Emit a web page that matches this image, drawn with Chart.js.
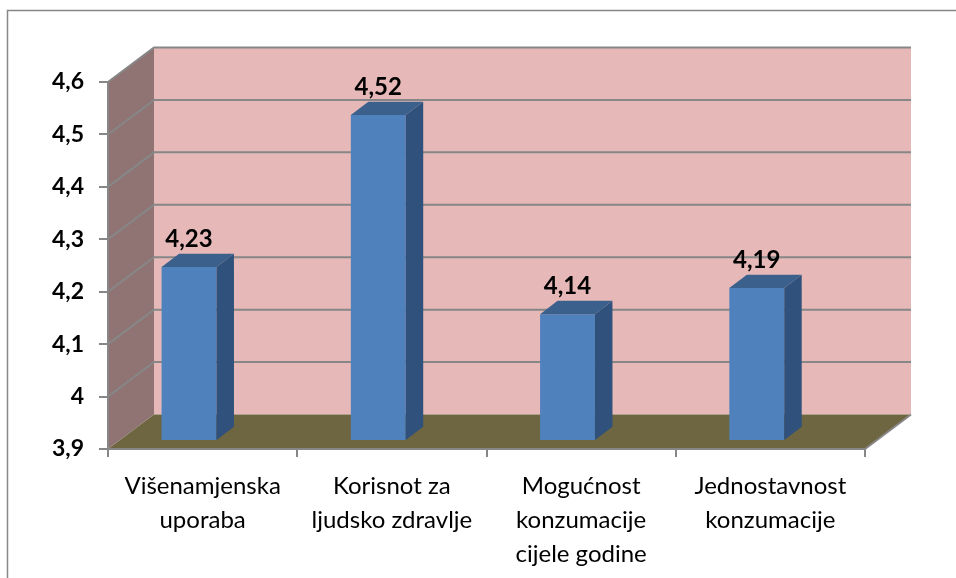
<!DOCTYPE html>
<html>
<head>
<meta charset="utf-8">
<script src="https://cdn.jsdelivr.net/npm/chart.js@4.4.1/dist/chart.umd.min.js"></script>
<style>
  html, body { margin: 0; padding: 0; background: #ffffff; }
  #wrap { width: 956px; height: 578px; position: relative; }
</style>
</head>
<body>
<div id="wrap"><canvas id="graf"></canvas></div>
<script>
// podaci s grafikona
var kategorije = [
  ['Višenamjenska', 'uporaba'],
  ['Korisnot za', 'ljudsko zdravlje'],
  ['Mogućnost', 'konzumacije', 'cijele godine'],
  ['Jednostavnost', 'konzumacije']
];
var vrijednosti = [4.23, 4.52, 4.14, 4.19];
var oznakeVrijednosti = ['4,23', '4,52', '4,14', '4,19'];
var yVrijednosti = [3.9, 4.0, 4.1, 4.2, 4.3, 4.4, 4.5, 4.6];
var yOznake = ['3,9', '4', '4,1', '4,2', '4,3', '4,4', '4,5', '4,6'];

// 3D izgled (dubina zidova i stupaca)
var DUB_X = 46, DUB_Y = -34.5;     // dubina poda / zidova
var STUP_X = 17.5, STUP_Y = -13.3; // dubina stupca
var POM_X = -13.6, POM_Y = -9;     // pomak prednje plohe stupca

var boje = {
  zid: '#e6b9b8',
  bocniZid: '#907474',
  pod: '#6e6640',
  mreza: '#878787',
  prednja: '#4f81bd',
  bocna: '#30517b',
  gornja: '#3c608c'
};

function poligon(ctx, tocke, boja) {
  ctx.beginPath();
  ctx.moveTo(tocke[0][0], tocke[0][1]);
  for (var i = 1; i < tocke.length; i++) ctx.lineTo(tocke[i][0], tocke[i][1]);
  ctx.closePath();
  ctx.fillStyle = boja;
  ctx.fill();
}

var pozadina3D = {
  id: 'pozadina3D',
  beforeDraw: function (chart) {
    var ctx = chart.ctx, a = chart.chartArea, y = chart.scales.y;
    var dno = y.getPixelForValue(yVrijednosti[0]);
    var vrh = y.getPixelForValue(yVrijednosti[yVrijednosti.length - 1]);
    ctx.save();
    ctx.fillStyle = '#ffffff';
    ctx.fillRect(0, 0, chart.width, chart.height);
    // vanjski okvir
    ctx.strokeStyle = '#878787';
    ctx.lineWidth = 1.5;
    ctx.strokeRect(7.5, 10.5, 2000, 2000);

    // stražnji zid
    poligon(ctx, [[a.left + DUB_X, vrh + DUB_Y], [a.right + DUB_X, vrh + DUB_Y],
                  [a.right + DUB_X, dno + DUB_Y], [a.left + DUB_X, dno + DUB_Y]], boje.zid);
    // bočni zid
    poligon(ctx, [[a.left, vrh], [a.left + DUB_X, vrh + DUB_Y],
                  [a.left + DUB_X, dno + DUB_Y], [a.left, dno]], boje.bocniZid);
    // pod
    poligon(ctx, [[a.left, dno], [a.left + DUB_X, dno + DUB_Y],
                  [a.right + DUB_X, dno + DUB_Y], [a.right, dno]], boje.pod);

    // linije mreže
    ctx.strokeStyle = boje.mreza;
    ctx.lineWidth = 2;
    for (var i = 1; i < yVrijednosti.length; i++) {
      var py = y.getPixelForValue(yVrijednosti[i]);
      ctx.beginPath();
      ctx.moveTo(a.left, py);
      ctx.lineTo(a.left + DUB_X, py + DUB_Y);
      ctx.lineTo(a.right + DUB_X, py + DUB_Y);
      ctx.stroke();
    }
    // desni rub poda
    ctx.beginPath();
    ctx.moveTo(a.right, dno);
    ctx.lineTo(a.right + DUB_X, dno + DUB_Y);
    ctx.stroke();
    ctx.restore();
  },
  beforeDatasetsDraw: function (chart) {
    chart.ctx.save();
    chart.ctx.translate(POM_X, POM_Y);
  },
  afterDatasetsDraw: function (chart) {
    var ctx = chart.ctx;
    var base = chart.scales.y.getPixelForValue(yVrijednosti[0]);
    var meta = chart.getDatasetMeta(0);
    meta.data.forEach(function (bar, i) {
      var p = bar.getProps(['x', 'y', 'width'], true);
      var xl = p.x - p.width / 2, xr = p.x + p.width / 2;
      var top = p.y;
      poligon(ctx, [[xr, top], [xr + STUP_X, top + STUP_Y],
                    [xr + STUP_X, base + STUP_Y], [xr, base]], boje.bocna);
      poligon(ctx, [[xl, top], [xl + STUP_X, top + STUP_Y],
                    [xr + STUP_X, top + STUP_Y], [xr, top]], boje.gornja);
      ctx.fillStyle = '#000000';
      ctx.font = 'bold 24px Lato';
      ctx.textAlign = 'center';
      ctx.textBaseline = 'alphabetic';
      ctx.fillText(oznakeVrijednosti[i], p.x, top - 20);
    });
    ctx.restore();
  }
};

var ctx = document.getElementById('graf').getContext('2d');
var graf = new Chart(ctx, {
  type: 'bar',
  data: {
    labels: kategorije,
    datasets: [{
      data: vrijednosti,
      backgroundColor: boje.prednja,
      borderWidth: 0,
      barPercentage: 0.29,
      categoryPercentage: 1
    }]
  },
  options: {
    responsive: true,
    maintainAspectRatio: false,
    animation: false,
    devicePixelRatio: 1,
    layout: { padding: { left: 0, right: 91, top: 82, bottom: 0 } },
    plugins: {
      legend: { display: false },
      tooltip: { enabled: false }
    },
    scales: {
      x: {
        grid: { drawOnChartArea: false, drawTicks: true, tickLength: 8, color: '#878787', lineWidth: 2, offset: true },
        border: { color: '#878787', width: 2 },
        ticks: {
          color: '#000000',
          font: { family: 'Lato', size: 24, lineHeight: 1.42 },
          padding: 12,
          maxRotation: 0,
          autoSkip: false
        },
        afterFit: function (s) { s.height = 129; }
      },
      y: {
        min: yVrijednosti[0],
        max: yVrijednosti[yVrijednosti.length - 1],
        afterBuildTicks: function (s) {
          s.ticks = yVrijednosti.map(function (v) { return { value: v }; });
        },
        grid: { drawOnChartArea: false, drawTicks: true, tickLength: 9, color: '#878787', lineWidth: 2 },
        border: { color: '#878787', width: 2 },
        ticks: {
          color: '#000000',
          font: { family: 'Lato', size: 23, weight: 'bold' },
          padding: 15,
          callback: function (v, i) { return yOznake[i]; }
        },
        afterFit: function (s) { s.width = 108; }
      }
    }
  },
  plugins: [pozadina3D]
});
</script>
</body>
</html>
